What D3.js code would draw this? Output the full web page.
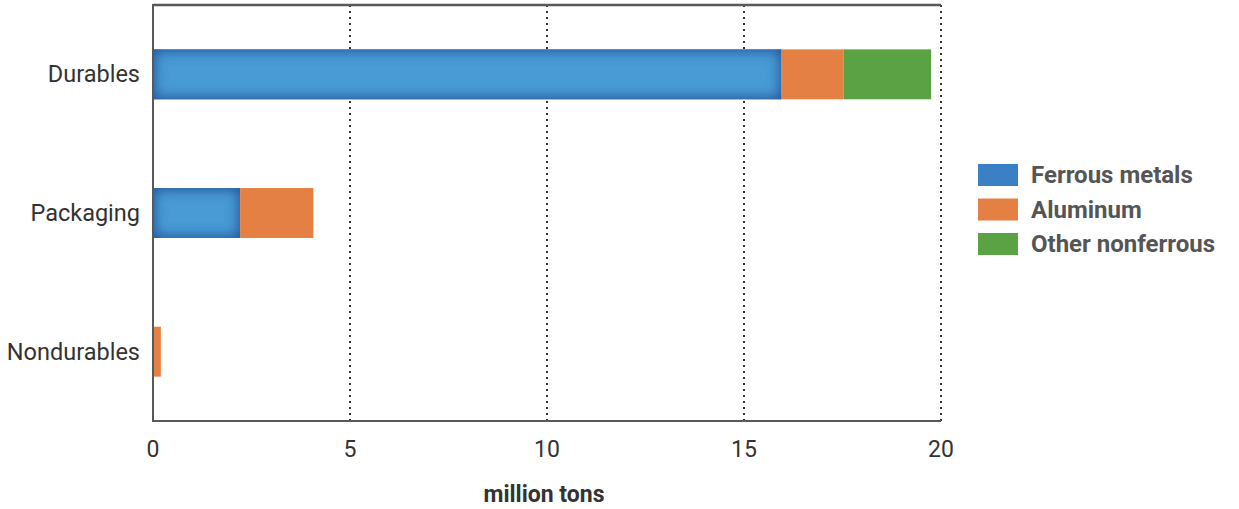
<!DOCTYPE html>
<html><head><meta charset="utf-8">
<script src="https://cdn.jsdelivr.net/npm/d3@7"></script>
<style>
body{margin:0;background:#fff;}
text{font-family:Roboto,"Open Sans",sans-serif;}
</style></head>
<body><svg id="c" width="1239" height="509"></svg>
<script>
const categories = ["Durables","Packaging","Nondurables"];
const seriesNames = ["Ferrous metals","Aluminum","Other nonferrous"];
const ferrous = [15.95, 2.21, 0];
const aluminum = [1.58, 1.86, 0.2];
const otherNonferrous = [2.22, 0, 0];
const xTicks = [0,5,10,15,20];
const xTitle = "million tons";
const colors = ["#3b7fc4","#e58045","#5aa244"];

const svg = d3.select("#c");
const m = {l:153, r:941, t:5, b:421};
const x = d3.scaleLinear().domain([0,20]).range([m.l, m.r]);
const y = d3.scaleBand().domain(categories).range([m.t, m.b]).paddingInner(0.64).paddingOuter(0.32);

const defs = svg.append("defs");
const f = defs.append("filter").attr("id","inner").attr("filterUnits","userSpaceOnUse")
  .attr("x",0).attr("y",0).attr("width",1239).attr("height",509);
f.append("feComponentTransfer").attr("in","SourceAlpha").attr("result","inv")
  .append("feFuncA").attr("type","table").attr("tableValues","1 0");
f.append("feGaussianBlur").attr("in","inv").attr("stdDeviation",7).attr("result","blur");
f.append("feFlood").attr("flood-color","#2a5ca5").attr("result","col");
f.append("feComposite").attr("in","col").attr("in2","blur").attr("operator","in").attr("result","sh");
f.append("feComposite").attr("in","sh").attr("in2","SourceAlpha").attr("operator","in").attr("result","sh2");
const fm = f.append("feMerge");
fm.append("feMergeNode").attr("in","SourceGraphic");
fm.append("feMergeNode").attr("in","sh2");
fm.append("feMergeNode").attr("in","sh2");

// gridlines
svg.append("g").selectAll("line").data(xTicks.filter(d=>d>0)).join("line")
  .attr("x1",d=>x(d)).attr("x2",d=>x(d)).attr("y1",m.t).attr("y2",m.b)
  .attr("stroke","#333").attr("stroke-width",2).attr("stroke-dasharray","2,4");

// stacked data
const rows = categories.map((c,i)=>({cat:c, vals:[ferrous[i],aluminum[i],otherNonferrous[i]]}));
const segs = [];
rows.forEach(r=>{let acc=0; r.vals.forEach((v,j)=>{ if(v>0) segs.push({cat:r.cat,s:j,x0:acc,x1:acc+v}); acc+=v;});});

svg.append("g").selectAll("rect").data(segs).join("rect")
  .attr("x",d=>x(d.x0)).attr("width",d=>x(d.x1)-x(d.x0))
  .attr("y",d=>y(d.cat)).attr("height",y.bandwidth())
  .attr("fill",d=>d.s===0?"#4a9bd5":colors[d.s])
  .attr("filter",d=>d.s===0?"url(#inner)":null);

// frame
svg.append("line").attr("x1",m.l).attr("x2",m.r).attr("y1",m.t).attr("y2",m.t).attr("stroke","#595959").attr("stroke-width",2.5);
svg.append("line").attr("x1",m.l).attr("x2",m.r).attr("y1",m.b).attr("y2",m.b).attr("stroke","#595959").attr("stroke-width",2);
svg.append("line").attr("x1",m.l).attr("x2",m.l).attr("y1",m.t-1).attr("y2",m.b+1).attr("stroke","#595959").attr("stroke-width",2);

// x tick labels
svg.append("g").selectAll("text").data(xTicks).join("text")
  .attr("x",d=>x(d)).attr("y",457).attr("text-anchor","middle")
  .attr("font-size",23).attr("fill","#333").text(d=>d);

// category labels
svg.append("g").selectAll("text").data(categories).join("text")
  .attr("x",140).attr("y",d=>y(d)+y.bandwidth()/2+8).attr("text-anchor","end")
  .attr("font-size",23.5).attr("fill","#333").text(d=>d);

// axis title
svg.append("text").attr("x",544).attr("y",502).attr("text-anchor","middle")
  .attr("font-size",23).attr("font-weight","bold").attr("fill","#333").text(xTitle);

// legend
const lg = svg.append("g").selectAll("g").data(seriesNames).join("g")
  .attr("transform",(d,i)=>`translate(978,${164+i*34.5})`);
lg.append("rect").attr("width",40).attr("height",22).attr("fill",(d,i)=>colors[i]);
lg.append("text").attr("x",53).attr("y",19).attr("font-size",24).attr("font-weight","bold").attr("fill","#555").text(d=>d);
</script></body></html>
